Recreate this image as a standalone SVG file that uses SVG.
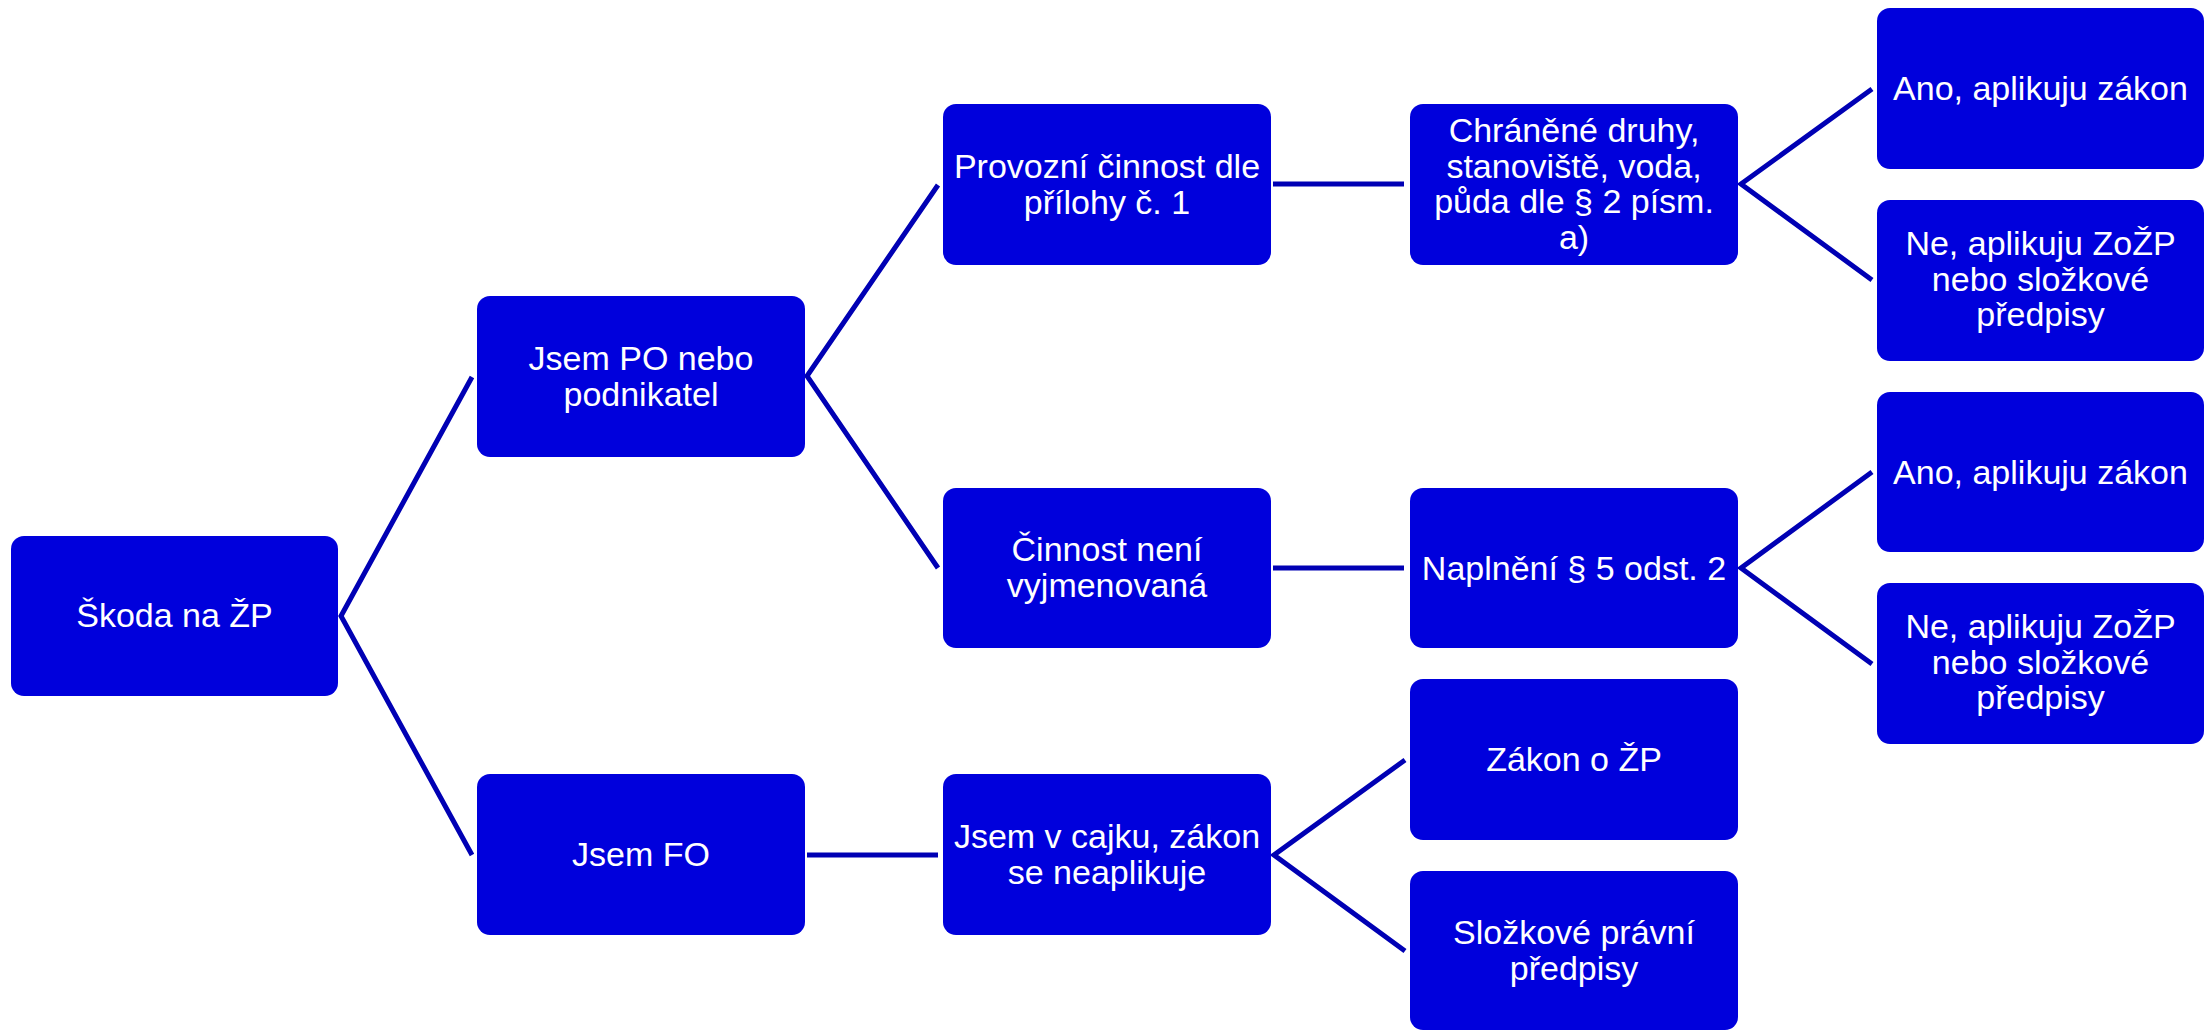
<svg xmlns="http://www.w3.org/2000/svg" width="2205" height="1031" viewBox="0 0 2205 1031">
<style>
.box{fill:#0000dc;}
.t{fill:#ffffff;font-family:"Liberation Sans",Arial,sans-serif;font-size:34px;text-anchor:middle;}
.c{stroke:#0000b4;stroke-width:5;fill:none;}
</style>
<rect width="2205" height="1031" fill="#ffffff"/>
<g id="connectors">
<polyline class="c" points="472,377 341,616 472,855"/>
<polyline class="c" points="938,185 807,376 938,568"/>
<line class="c" x1="807" y1="855" x2="938" y2="855"/>
<line class="c" x1="1273" y1="184" x2="1404" y2="184"/>
<line class="c" x1="1273" y1="568" x2="1404" y2="568"/>
<polyline class="c" points="1405,760 1274,855 1405,951"/>
<polyline class="c" points="1872,89 1741,184 1872,280"/>
<polyline class="c" points="1872,472 1741,568 1872,664"/>
</g>
<g id="n-skoda"><rect class="box" x="11" y="536" width="327" height="160" rx="13"/><text class="t" x="174.5" y="627">Škoda na ŽP</text></g>
<g id="n-po"><rect class="box" x="477" y="296" width="328" height="161" rx="13"/><text class="t" x="641" y="370">Jsem PO nebo</text><text class="t" x="641" y="406">podnikatel</text></g>
<g id="n-fo"><rect class="box" x="477" y="774" width="328" height="161" rx="13"/><text class="t" x="641" y="866">Jsem FO</text></g>
<g id="n-provozni"><rect class="box" x="943" y="104" width="328" height="161" rx="13"/><text class="t" x="1107" y="178">Provozní činnost dle</text><text class="t" x="1107" y="214">přílohy č. 1</text></g>
<g id="n-cinnost"><rect class="box" x="943" y="488" width="328" height="160" rx="13"/><text class="t" x="1107" y="561">Činnost není</text><text class="t" x="1107" y="597">vyjmenovaná</text></g>
<g id="n-cajk"><rect class="box" x="943" y="774" width="328" height="161" rx="13"/><text class="t" x="1107" y="848">Jsem v cajku, zákon</text><text class="t" x="1107" y="884">se neaplikuje</text></g>
<g id="n-chranene"><rect class="box" x="1410" y="104" width="328" height="161" rx="13"/><text class="t" x="1574" y="142">Chráněné druhy,</text><text class="t" x="1574" y="177.5">stanoviště, voda,</text><text class="t" x="1574" y="213">půda dle § 2 písm.</text><text class="t" x="1574" y="248.5">a)</text></g>
<g id="n-naplneni"><rect class="box" x="1410" y="488" width="328" height="160" rx="13"/><text class="t" x="1574" y="580">Naplnění § 5 odst. 2</text></g>
<g id="n-zakon"><rect class="box" x="1410" y="679" width="328" height="161" rx="13"/><text class="t" x="1574" y="771">Zákon o ŽP</text></g>
<g id="n-slozkove"><rect class="box" x="1410" y="871" width="328" height="159" rx="13"/><text class="t" x="1574" y="944">Složkové právní</text><text class="t" x="1574" y="980">předpisy</text></g>
<g id="n-ano1"><rect class="box" x="1877" y="8" width="327" height="161" rx="13"/><text class="t" x="2040.5" y="100">Ano, aplikuju zákon</text></g>
<g id="n-ne1"><rect class="box" x="1877" y="200" width="327" height="161" rx="13"/><text class="t" x="2040.5" y="255">Ne, aplikuju ZoŽP</text><text class="t" x="2040.5" y="290.5">nebo složkové</text><text class="t" x="2040.5" y="326">předpisy</text></g>
<g id="n-ano2"><rect class="box" x="1877" y="392" width="327" height="160" rx="13"/><text class="t" x="2040.5" y="484">Ano, aplikuju zákon</text></g>
<g id="n-ne2"><rect class="box" x="1877" y="583" width="327" height="161" rx="13"/><text class="t" x="2040.5" y="638">Ne, aplikuju ZoŽP</text><text class="t" x="2040.5" y="673.5">nebo složkové</text><text class="t" x="2040.5" y="709">předpisy</text></g>
</svg>
